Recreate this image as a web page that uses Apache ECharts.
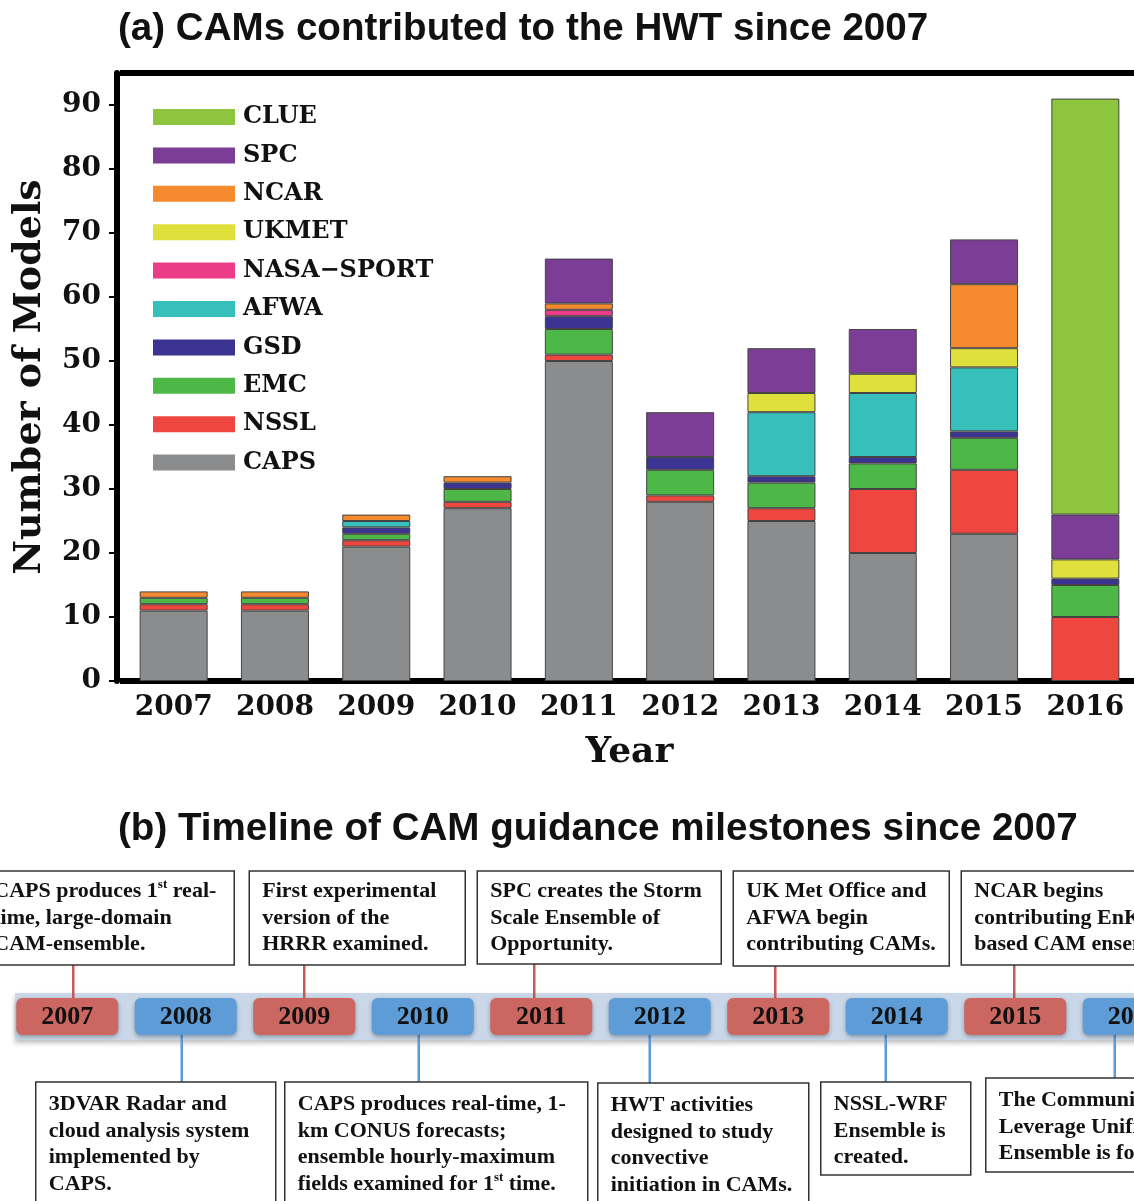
<!DOCTYPE html>
<html>
<head>
<meta charset="utf-8">
<script src="https://cdn.jsdelivr.net/npm/echarts@6/dist/echarts.min.js"></script>
<style>
html, body { margin: 0; padding: 0; background: #fff; }
#main { width: 1134px; height: 1201px; }
</style>
</head>
<body>
<div id="main"></div>
<script>
// panel (a) data: number of CAMs per contributor and year
const years = ['2007', '2008', '2009', '2010', '2011', '2012', '2013', '2014', '2015', '2016'];
const caps      = [11, 11, 21, 27, 50, 28, 25, 20, 23, 0];
const nssl      = [1, 1, 1, 1, 1, 1, 2, 10, 10, 10];
const emc       = [1, 1, 1, 2, 4, 4, 4, 4, 5, 5];
const gsd       = [0, 0, 1, 1, 2, 2, 1, 1, 1, 1];
const afwa      = [0, 0, 1, 0, 0, 0, 10, 10, 10, 0];
const nasaSport = [0, 0, 0, 0, 1, 0, 0, 0, 0, 0];
const ukmet     = [0, 0, 0, 0, 0, 0, 3, 3, 3, 3];
const ncar      = [1, 1, 1, 1, 1, 0, 0, 0, 10, 0];
const spc       = [0, 0, 0, 0, 7, 7, 7, 7, 7, 7];
const clue      = [0, 0, 0, 0, 0, 0, 0, 0, 0, 65];
const yTicks = [0, 10, 20, 30, 40, 50, 60, 70, 80, 90];

// panel (b): one milestone per year
const milestones = [
  'CAPS produces 1{sup|st} real-\ntime, large-domain\nCAM-ensemble.',
  '3DVAR Radar and\ncloud analysis system\nimplemented by\nCAPS.',
  'First experimental\nversion of the\nHRRR examined.',
  'CAPS produces real-time, 1-\nkm CONUS forecasts;\nensemble hourly-maximum\nfields examined for 1{sup|st} time.',
  'SPC creates the Storm\nScale Ensemble of\nOpportunity.',
  'HWT activities\ndesigned to study\nconvective\ninitiation in CAMs.',
  'UK Met Office and\nAFWA begin\ncontributing CAMs.',
  'NSSL-WRF\nEnsemble is\ncreated.',
  'NCAR begins\ncontributing EnKF-\nbased CAM ensemble.',
  'The Community\nLeverage Unified\nEnsemble is formed.'
];

// box placement relative to the year marker: [dx, width, top, height, connector dx]
const boxLayout = [
  [-87, 254, 871, 94, 6],
  [-150, 240, 1082, 130, -4],
  [-55, 216, 871, 94, 0],
  [-138, 303, 1082, 130, -4],
  [-64, 244, 871, 93, -7],
  [-62, 211, 1083, 130, -10],
  [-45, 216, 871, 95, -3],
  [-76, 150, 1082, 93, -11],
  [-54, 240, 871, 94, -1],
  [-148, 250, 1078, 94, -19]
];

const stackOrder = [
  ['CAPS', caps, '#8b8c8e'],
  ['NSSL', nssl, '#ee4740'],
  ['EMC', emc, '#4db748'],
  ['GSD', gsd, '#3b3493'],
  ['AFWA', afwa, '#37bfbb'],
  ['NASA\u2212SPORT', nasaSport, '#ec3c88'],
  ['UKMET', ukmet, '#dfe03b'],
  ['NCAR', ncar, '#f5892e'],
  ['SPC', spc, '#7b3d96'],
  ['CLUE', clue, '#8dc53e']
];

const axisFont = 'DejaVu Serif';
const boxFont = 'Liberation Serif';

const barSeries = stackOrder.map(([name, vals, color]) => ({
  name: name,
  type: 'bar',
  stack: 'models',
  barWidth: 68,
  xAxisIndex: 0,
  yAxisIndex: 0,
  data: vals.map(v => v === 0 ? '-' : v),
  itemStyle: { color: color, borderColor: '#444', borderWidth: 1 }
}));

function renderTimeline(params, api) {
  const i = params.dataIndex;
  const cx = api.coord([api.value(0), 0])[0];
  const up = i % 2 === 0;
  const [dx, w, top, h, cdx] = boxLayout[i];
  const fill = up ? '#cb6660' : '#5d9cd6';
  const lineCol = up ? '#c25a55' : '#5b9bd5';
  const yTop = 998, yH = 37;
  const lx = cx + cdx;
  return {
    type: 'group',
    children: [
      {
        type: 'line',
        shape: up ? { x1: lx, y1: top + h, x2: lx, y2: yTop }
                  : { x1: lx, y1: yTop + yH, x2: lx, y2: top },
        style: { stroke: lineCol, lineWidth: 2.5 }
      },
      {
        type: 'rect',
        shape: { x: cx - 51, y: yTop, width: 102, height: yH, r: 6 },
        style: { fill: fill, shadowBlur: 4, shadowOffsetY: 2, shadowColor: 'rgba(0,0,0,0.3)' }
      },
      {
        type: 'text',
        style: {
          x: cx, y: yTop + yH / 2 + 1, text: years[i],
          textAlign: 'center', textVerticalAlign: 'middle',
          fontFamily: boxFont, fontWeight: 'bold', fontSize: 26, fill: '#111'
        }
      },
      {
        type: 'rect',
        shape: { x: cx + dx, y: top, width: w, height: h },
        style: { fill: '#fff', stroke: '#333', lineWidth: 1.5 }
      },
      {
        type: 'text',
        style: {
          x: cx + dx + 13, y: top + (up ? 7 : 9), text: milestones[i],
          textAlign: 'left', textVerticalAlign: 'top',
          fontFamily: boxFont, fontWeight: 'bold', fontSize: 22, lineHeight: 26.7, fill: '#111',
          rich: {
            sup: { fontFamily: boxFont, fontWeight: 'bold', fontSize: 13, lineHeight: 26.7, verticalAlign: 'top', fill: '#111' }
          }
        }
      }
    ]
  };
}

const chart = echarts.init(document.getElementById('main'), null, { renderer: 'canvas' });

chart.setOption({
  animation: false,
  backgroundColor: '#fff',
  title: [
    {
      text: '(a) CAMs contributed to the HWT since 2007',
      left: 113, top: 5,
      textStyle: { fontFamily: 'Liberation Sans', fontWeight: 'bold', fontSize: 38.6, color: '#111' }
    },
    {
      text: '(b) Timeline of CAM guidance milestones since 2007',
      left: 113, top: 805,
      textStyle: { fontFamily: 'Liberation Sans', fontWeight: 'bold', fontSize: 38.6, color: '#111' }
    }
  ],
  legend: {
    orient: 'vertical',
    left: 153,
    top: 104,
    padding: 0,
    icon: 'rect',
    itemWidth: 82,
    itemHeight: 16,
    itemGap: 12.4,
    data: stackOrder.map(s => s[0]).reverse(),
    itemStyle: { borderWidth: 0 },
    textStyle: { fontFamily: axisFont, fontWeight: 'bold', fontSize: 24, lineHeight: 26, color: '#111', padding: [0, 0, 0, 3] }
  },
  graphic: [
    {
      type: 'rect',
      z: 0,
      shape: { x: 15, y: 993, width: 1130, height: 47 },
      style: { fill: '#c9d7e8', shadowBlur: 5, shadowOffsetY: 3, shadowColor: 'rgba(0,0,0,0.25)' }
    }
  ],
  grid: [
    { left: 123, top: 73, width: 1013, height: 608, outerBoundsMode: 'none' },
    { left: 8, top: 990, width: 1185, height: 50, outerBoundsMode: 'none' }
  ],
  xAxis: [
    {
      type: 'category',
      gridIndex: 0,
      data: years,
      name: 'Year',
      nameLocation: 'middle',
      nameGap: 54,
      nameTextStyle: { fontFamily: axisFont, fontWeight: 'bold', fontSize: 36, color: '#111' },
      axisLine: { lineStyle: { color: '#000', width: 6, cap: 'square' } },
      axisTick: { alignWithLabel: true, interval: 0, length: 7, lineStyle: { color: '#000', width: 2 } },
      axisLabel: { interval: 0, margin: 13, fontFamily: axisFont, fontWeight: 'bold', fontSize: 28, color: '#111' }
    },
    {
      type: 'category',
      gridIndex: 0,
      position: 'top',
      data: years,
      axisLine: { lineStyle: { color: '#000', width: 6, cap: 'square' } },
      axisTick: { show: false },
      axisLabel: { show: false }
    },
    {
      type: 'category',
      gridIndex: 1,
      data: years,
      show: false
    }
  ],
  yAxis: [
    {
      type: 'value',
      gridIndex: 0,
      min: 0,
      max: 95,
      offset: 6,
      name: 'Number of Models',
      nameLocation: 'middle',
      nameGap: 68,
      nameTextStyle: { fontFamily: axisFont, fontWeight: 'bold', fontSize: 38, color: '#111' },
      splitLine: { show: false },
      axisLine: { show: true, lineStyle: { color: '#000', width: 6 } },
      axisTick: { show: true, length: 8, customValues: yTicks, lineStyle: { color: '#000', width: 2 } },
      axisLabel: { margin: 16, customValues: yTicks, fontFamily: axisFont, fontWeight: 'bold', fontSize: 28, color: '#111' }
    },
    {
      type: 'value',
      gridIndex: 1,
      min: -1,
      max: 1,
      show: false
    }
  ],
  series: barSeries.concat([
    {
      type: 'custom',
      name: 'timeline',
      xAxisIndex: 2,
      yAxisIndex: 1,
      z: 5,
      clip: false,
      silent: true,
      renderItem: renderTimeline,
      data: years.map(y => [y, 0])
    }
  ])
});
</script>
</body>
</html>
